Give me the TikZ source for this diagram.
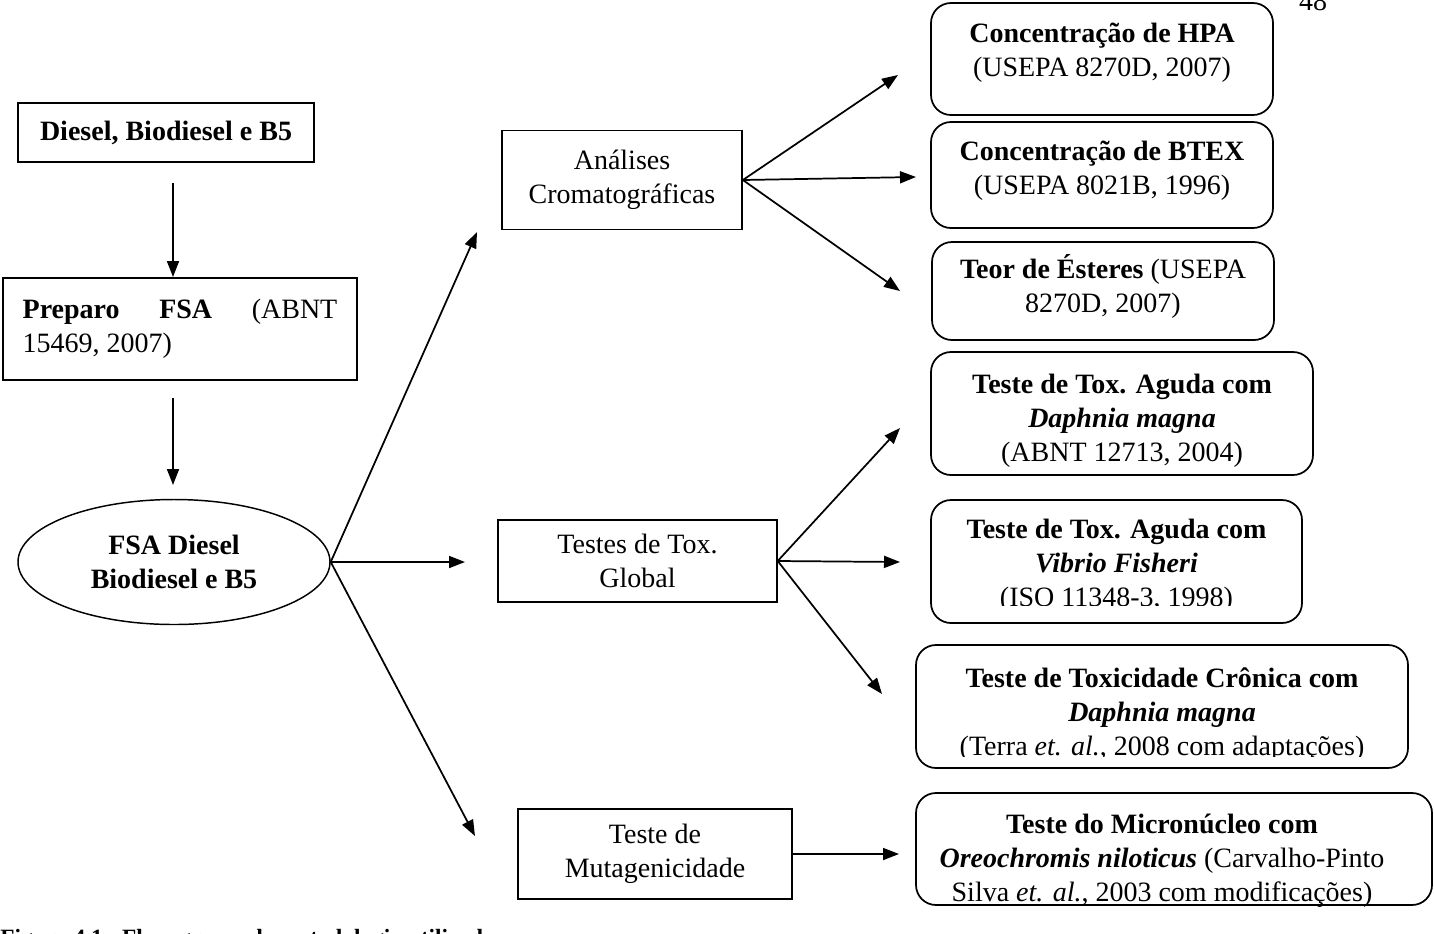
\documentclass[tikz,border=0pt]{standalone}
\usepackage{fontspec}
\setmainfont{Liberation Serif}
\usetikzlibrary{arrows.meta,shapes.geometric}
\begin{document}
\begin{tikzpicture}[x=0.75pt,y=-0.75pt,
  every node/.style={font=\fontsize{21}{25.5}\selectfont},
  sbox/.style={draw,line width=1.3pt,inner sep=0pt,align=center},
  rbox/.style={draw,line width=1.3pt,rounded corners=15pt,inner sep=0pt},
  txt/.style={align=center,inner sep=0pt},
  arr/.style={line width=1.3pt,-{Triangle[length=12pt,width=9pt]}}]
\useasboundingbox (0,0) rectangle (1434,933);
\clip (0,0) rectangle (1434,933);
\fill[white] (0,0) rectangle (1434,933);

% left column
\node[sbox,minimum width=222pt,minimum height=44.25pt] (n1) at (166,132.5) {\textbf{Diesel, Biodiesel e B5}};
\node[sbox,minimum width=265.5pt,minimum height=76.5pt] (n2) at (180,329)
  {\parbox{236pt}{\textbf{Preparo}\hfill\textbf{FSA}\hfill(ABNT\\15469, 2007)}};
\node[draw,ellipse,line width=1.1pt,inner sep=0pt,minimum width=234pt,minimum height=93.75pt,align=center] (ell) at (174,562)
  {\textbf{FSA Diesel}\\\textbf{Biodiesel e B5}};

% middle column
\node[sbox,minimum width=180pt,minimum height=74.25pt] (n3) at (622,180) {Análises\\Cromatográficas};
\node[sbox,minimum width=209pt,minimum height=61.5pt] (n4) at (637.5,561) {Testes de Tox.\\Global};
\node[sbox,minimum width=205.5pt,minimum height=67.5pt] (n5) at (655,854) {Teste de\\Mutagenicidade};

% right column
\node[rbox,minimum width=256.5pt,minimum height=84pt] (r1) at (1102,59) {};
\node[txt] (r1t) at (1102,53) {\textbf{Concentração de HPA}\\(USEPA 8270D, 2007)};
\node[rbox,minimum width=256.5pt,minimum height=79.5pt] (r2) at (1102,175) {};
\node[txt] (r2t) at (1102,171) {\textbf{Concentração de BTEX}\\(USEPA 8021B, 1996)};
\node[rbox,minimum width=256.5pt,minimum height=73.5pt] (r3) at (1103,291) {};
\node[txt] (r3t) at (1103,286) {\textbf{Teor de Ésteres} (USEPA\\8270D, 2007)};
\node[rbox,minimum width=286.5pt,minimum height=92.25pt] (r4) at (1122,413.5) {};
\node[txt] (r4t) at (1122,421) {\textbf{Teste de Tox. Aguda com}\\\textbf{\textit{Daphnia magna}}\\(ABNT 12713, 2004)};
\node[rbox,minimum width=278.25pt,minimum height=92.25pt] (r5) at (1116.5,561.5) {};
\begin{scope}
\clip (900,490) rectangle (1320,605);
\node[txt] (r5t) at (1116.5,566) {\textbf{Teste de Tox. Aguda com}\\\textbf{\textit{Vibrio Fisheri}}\\(ISO 11348-3, 1998)};
\end{scope}
\node[rbox,minimum width=369pt,minimum height=92.25pt] (r6) at (1162,706.5) {};
\begin{scope}
\clip (900,640) rectangle (1420,756);
\node[txt] (r6t) at (1162,715) {\textbf{Teste de Toxicidade Crônica com}\\\textbf{\textit{Daphnia magna}}\\(Terra \textit{et. al.}, 2008 com adaptações)};
\end{scope}
\node[rbox,minimum width=387pt,minimum height=84pt] (r7) at (1174,849) {};
\node[txt] (r7t) at (1162,861) {\textbf{Teste do Micronúcleo com}\\\textbf{\textit{Oreochromis niloticus}} (Carvalho-Pinto\\Silva \textit{et. al.}, 2003 com modificações)};

% connector ends
\coordinate (v1a) at (173,183); \coordinate (v1b) at (173,277);
\coordinate (v2a) at (173,398); \coordinate (v2b) at (173,485);
\coordinate (e1) at (477,232); \coordinate (e2) at (465,562); \coordinate (e3) at (475,836);
\coordinate (c1) at (898,75); \coordinate (c2) at (916,177); \coordinate (c3) at (900,291);
\coordinate (t1) at (900,428); \coordinate (t2) at (900,562); \coordinate (t3) at (882,694);
\coordinate (m1) at (899,854);

\draw[arr] (v1a) -- (v1b);
\draw[arr] (v2a) -- (v2b);
\draw[arr] (ell.east) -- (e1);
\draw[arr] (ell.east) -- (e2);
\draw[arr] (ell.east) -- (e3);
\draw[arr] (n3.east) -- (c1);
\draw[arr] (n3.east) -- (c2);
\draw[arr] (n3.east) -- (c3);
\draw[arr] (n4.east) -- (t1);
\draw[arr] (n4.east) -- (t2);
\draw[arr] (n4.east) -- (t3);
\draw[arr] (n5.east) -- (m1);

% page number and caption (cut by the page edge, as in the reference)
\node[anchor=base,inner sep=0pt] (pg) at (1313,10) {48};
\node[anchor=base west,inner sep=0pt,font=\fontsize{17.5}{21}\selectfont\bfseries] (cap) at (0,945) {Figura 4.1 - Fluxograma da metodologia utilizada};
\end{tikzpicture}
\end{document}
